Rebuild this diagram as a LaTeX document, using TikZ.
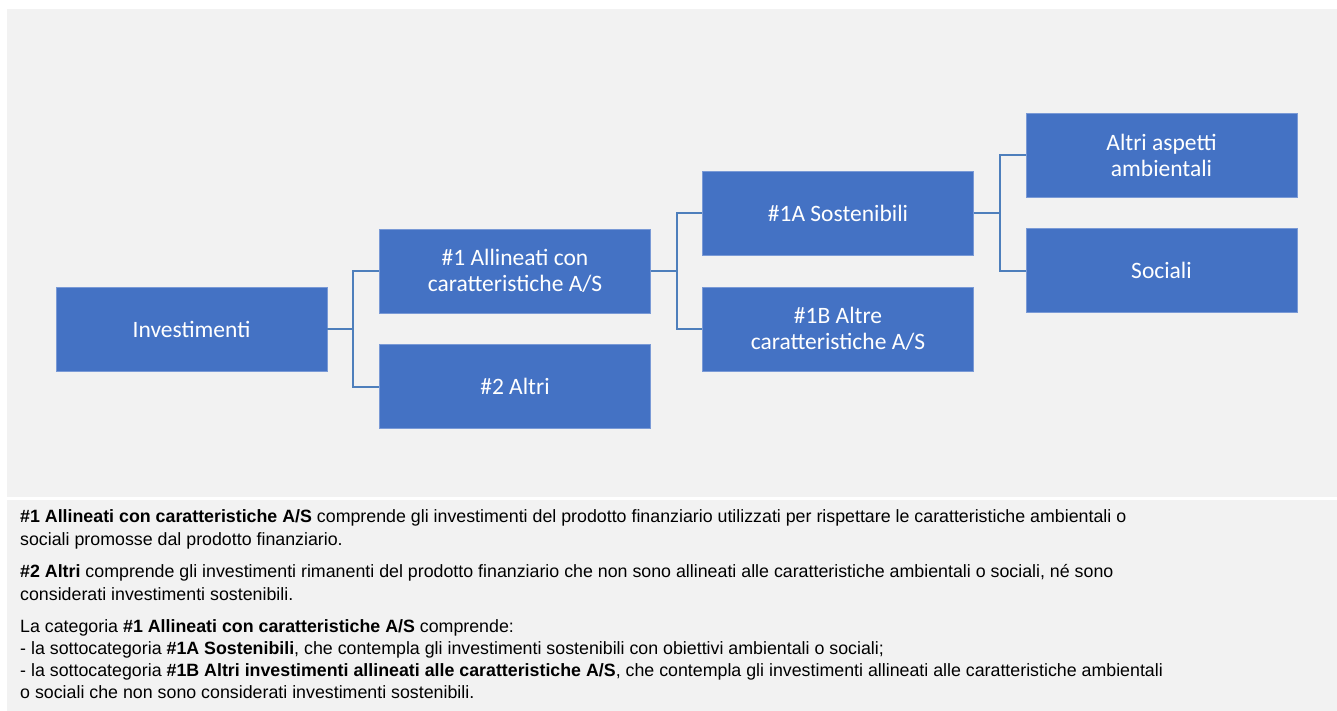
\documentclass[tikz,border=0pt]{standalone}
\usepackage{fontspec}
\setmainfont{Liberation Sans}
\newfontfamily\boxfont{Carlito}
\definecolor{panel}{HTML}{F2F2F2}
\definecolor{boxblue}{HTML}{4472C4}
\definecolor{boxedge}{HTML}{7A9AD6}
\definecolor{linkblue}{HTML}{4E7FBC}
\begin{document}
\begin{tikzpicture}[x=1pt,y=-1pt,
  blk/.style={fill=boxblue, draw=boxedge, line width=0.8pt, minimum width=271pt, minimum height=84pt,
    align=center, text=white, font=\boxfont\fontsize{23.5}{26}\selectfont, inner sep=0pt},
  link/.style={draw=linkblue, line width=2pt},
  ln/.style={anchor=base west, inner sep=0pt, text=black, font=\fontsize{17.8}{20}\selectfont}]
\useasboundingbox (0,0) rectangle (1337,711);
\fill[white] (0,0) rectangle (1337,711);
\fill[panel] (7,9) rectangle (1337,497);
\fill[panel] (7,500) rectangle (1337,711);

\node[blk] (inv) at (191.5,329) {Investimenti};
\node[blk] (a1) at (515,271) {\#1 Allineati con\\caratteristiche A/S};
\node[blk] (a2) at (515,386.5) {\#2 Altri};
\node[blk] (b1) at (838,213) {\#1A Sostenibili};
\node[blk] (b2) at (838,329) {\#1B Altre\\caratteristiche A/S};
\node[blk] (c1) at (1161.5,155) {Altri aspetti\\ambientali};
\node[blk] (c2) at (1161.5,270.5) {Sociali};

\draw[link] (inv.east) -- ++(26,0) |- (a1.west);
\draw[link] (inv.east) -- ++(26,0) |- (a2.west);
\draw[link] (a1.east) -- ++(26,0) |- (b1.west);
\draw[link] (a1.east) -- ++(26,0) |- (b2.west);
\draw[link] (b1.east) -- ++(26,0) |- (c1.west);
\draw[link] (b1.east) -- ++(26,0) |- (c2.west);

\node[ln] (t1) at (20,522) {\textbf{\#1 Allineati con caratteristiche A/S} comprende gli investimenti del prodotto finanziario utilizzati per rispettare le caratteristiche ambientali o};
\node[ln] (t2) at (20,545) {sociali promosse dal prodotto finanziario.};
\node[ln] (t3) at (20,577) {\textbf{\#2 Altri} comprende gli investimenti rimanenti del prodotto finanziario che non sono allineati alle caratteristiche ambientali o sociali, né sono};
\node[ln] (t4) at (20,600) {considerati investimenti sostenibili.};
\node[ln] (t5) at (20,632) {La categoria \textbf{\#1 Allineati con caratteristiche A/S} comprende:};
\node[ln] (t6) at (20,654) {- la sottocategoria \textbf{\#1A Sostenibili}, che contempla gli investimenti sostenibili con obiettivi ambientali o sociali;};
\node[ln] (t7) at (20,676) {- la sottocategoria \textbf{\#1B Altri investimenti allineati alle caratteristiche A/S}, che contempla gli investimenti allineati alle caratteristiche ambientali};
\node[ln] (t8) at (20,698) {o sociali che non sono considerati investimenti sostenibili.};
\end{tikzpicture}
\end{document}
